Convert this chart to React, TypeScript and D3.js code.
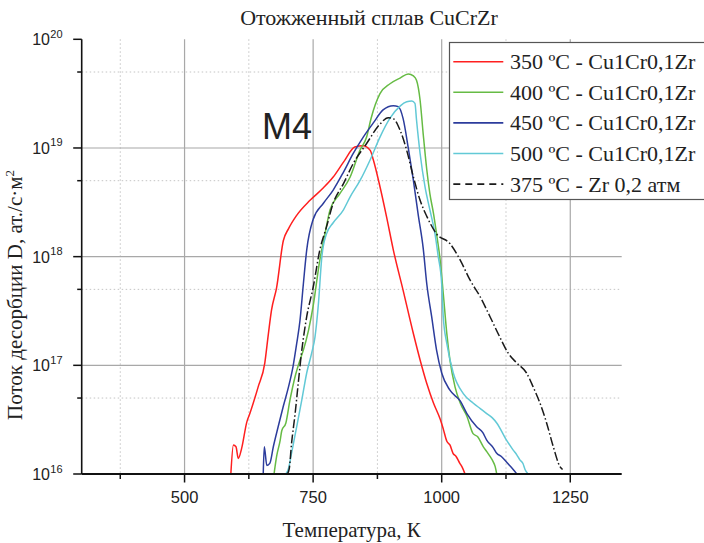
import React from "react";
import * as d3 from "d3";

// ---------- data ----------
const xTicksMajor = [500, 750, 1000, 1250];
const xTicksMinor = [375, 625, 875, 1125];
const yTicksMajor = [1e16, 1e17, 1e18, 1e19, 1e20];
const yTicksMinor = [5e16, 5e17, 5e18, 5e19];
const yTickExponents = ["16", "17", "18", "19", "20"];

const seriesNames = [
  "350 ºC - Cu1Cr0,1Zr",
  "400 ºC - Cu1Cr0,1Zr",
  "450 ºC - Cu1Cr0,1Zr",
  "500 ºC - Cu1Cr0,1Zr",
  "375 ºC - Zr 0,2 атм",
];

const tempRed = [590, 595, 600, 604.5, 611, 621, 627, 643, 656, 663, 669, 679, 692, 702, 718, 744, 770, 789, 809, 831, 847, 861, 867, 880, 893, 906, 925, 945, 958, 971, 984, 997, 1003, 1010, 1016, 1022, 1028, 1035, 1040, 1045];
const fluxRed = [1.0e16, 1.85e16, 1.78e16, 1.39e16, 1.72e16, 3.0e16, 3.6e16, 6.3e16, 1.05e17, 1.95e17, 3.2e17, 5.2e17, 1.4e18, 1.8e18, 2.4e18, 3.3e18, 4.3e18, 5.4e18, 7.4e18, 1.02e19, 1.05e19, 9.5e18, 7.8e18, 4.4e18, 2.3e18, 1.15e18, 4.9e17, 1.95e17, 1.12e17, 6.8e16, 4.5e16, 3.2e16, 2.6e16, 2.0e16, 1.85e16, 1.55e16, 1.45e16, 1.26e16, 1.15e16, 1.01e16];

const tempGreen = [674, 679, 686, 689, 697, 705, 715, 724.5, 731, 741, 750, 763, 773, 783, 802, 822, 841, 854, 862.5, 880, 899.5, 919, 935, 945, 951, 958, 964, 971, 977, 984, 990, 997, 1003, 1010, 1016, 1026, 1036, 1049, 1061, 1070, 1081, 1088, 1094, 1100, 1104, 1107];
const fluxGreen = [1.0e16, 1.45e16, 2.05e16, 2.5e16, 2.95e16, 4.8e16, 7.9e16, 1.12e17, 1.38e17, 2.1e17, 3.5e17, 9.3e17, 1.62e18, 2.7e18, 3.8e18, 5.4e18, 9.5e18, 1.26e19, 1.86e19, 3.16e19, 3.9e19, 4.4e19, 4.8e19, 4.6e19, 4.2e19, 2.75e19, 1.35e19, 6.3e18, 3.8e18, 2.5e18, 1.62e18, 9.3e17, 4.6e17, 1.95e17, 1.12e17, 6.3e16, 4.5e16, 3.4e16, 2.35e16, 2.2e16, 1.78e16, 1.6e16, 1.45e16, 1.3e16, 1.17e16, 1.0e16];

const tempBlue = [653, 655, 660, 666, 672.6, 682, 692, 702, 711, 718, 724.5, 731, 737.5, 750, 770, 789, 809, 828, 847.5, 867, 886, 906, 915.6, 925, 935, 945, 954.5, 964, 971, 980.5, 990, 1000, 1016, 1036, 1049, 1068, 1080, 1087.5, 1100, 1107, 1116, 1126, 1132, 1139, 1146];
const fluxBlue = [1.0e16, 1.78e16, 1.2e16, 1.26e16, 1.78e16, 2.72e16, 4.2e16, 6.3e16, 9.8e16, 1.58e17, 2.6e17, 5.6e17, 1.15e18, 2.2e18, 3.1e18, 4.1e18, 6.0e18, 8.9e18, 1.26e19, 1.7e19, 2.24e19, 2.45e19, 2.4e19, 1.86e19, 1.0e19, 5.0e18, 2.4e18, 1.2e18, 5.6e17, 2.8e17, 1.38e17, 8.5e16, 5.9e16, 4.7e16, 3.6e16, 2.72e16, 2.4e16, 2.05e16, 1.75e16, 1.55e16, 1.45e16, 1.29e16, 1.2e16, 1.1e16, 1.0e16];

const tempCyan = [697, 702, 708, 718, 728, 737.5, 747, 753.6, 760, 767, 776, 789, 809, 822, 841, 861, 880, 899.5, 919, 932, 942, 948, 951, 958, 967.5, 977, 987, 993, 1000, 1003, 1010, 1022.5, 1042, 1061, 1075, 1087.5, 1098, 1107, 1126, 1139, 1146, 1152, 1158, 1162, 1168];
const fluxCyan = [1.0e16, 1.12e16, 1.55e16, 2.72e16, 4.8e16, 8.5e16, 1.29e17, 1.82e17, 3.55e17, 1.0e18, 1.62e18, 2.05e18, 2.7e18, 3.55e18, 5.0e18, 7.8e18, 1.26e19, 1.88e19, 2.43e19, 2.66e19, 2.7e19, 2.57e19, 1.82e19, 8.9e18, 4.4e18, 2.7e18, 1.62e18, 1.02e18, 5.6e17, 2.8e17, 1.58e17, 8.5e16, 5.5e16, 4.5e16, 4.0e16, 3.6e16, 3.3e16, 2.95e16, 2.05e16, 1.66e16, 1.5e16, 1.35e16, 1.25e16, 1.1e16, 1.0e16];

const tempBlack = [700, 703.6, 708, 715, 721, 728, 737.5, 750, 763, 776, 789, 809, 828, 854, 880, 896, 906, 919, 932, 945, 958, 971, 990, 1016, 1036, 1055, 1074.5, 1094, 1113, 1129.5, 1146, 1165, 1178, 1191, 1204, 1217, 1230, 1235];
const fluxBlack = [1.0e16, 1.12e16, 1.9e16, 3.6e16, 6.8e16, 1.38e17, 2.8e17, 5.2e17, 1.15e18, 1.88e18, 3.1e18, 4.7e18, 7.2e18, 1.1e19, 1.66e19, 1.9e19, 1.86e19, 1.46e19, 9.5e18, 5.4e18, 3.3e18, 2.35e18, 1.62e18, 1.32e18, 9.3e17, 6.1e17, 4.3e17, 2.8e17, 1.82e17, 1.29e17, 1.05e17, 8.5e16, 6.3e16, 4.5e16, 2.95e16, 1.78e16, 1.17e16, 1.1e16];

const seriesTemps = [tempRed, tempGreen, tempBlue, tempCyan, tempBlack];
const seriesFlux = [fluxRed, fluxGreen, fluxBlue, fluxCyan, fluxBlack];
const seriesColors = ["#ff1f1f", "#66bb44", "#2c3c9c", "#62c9d6", "#1a1a1a"];
const seriesDash = [null, null, null, null, "9,2.5,1.5,2.5"];

// ---------- layout ----------
const W = 704;
const H = 543;
const L = 81.7;
const R = 621.7;
const T = 39.3;
const B = 474;

const serif = "'Liberation Serif', 'Times New Roman', serif";
const sans = "'Liberation Sans', Arial, sans-serif";

export default function App() {
  const x = d3.scaleLinear().domain([300, 1350]).range([L, R]);
  const y = d3.scaleLog().domain([1e16, 1e20]).range([B, T]);

  const line = d3
    .line<[number, number]>()
    .x((d) => x(d[0]))
    .y((d) => y(d[1]))
    .curve(d3.curveMonotoneX);

  const legendRows = [61.7, 92.3, 122.9, 153.5, 184.1];

  return (
    <svg
      width={W}
      height={H}
      style={{ position: "absolute", left: 0, top: 0, background: "#fff" }}
    >
      <defs>
        <clipPath id="plot">
          <rect x={L} y={T} width={R - L} height={B - T + 1} />
        </clipPath>
      </defs>
      <rect x={0} y={0} width={W} height={H} fill="#fff" />

      {/* grid */}
      {xTicksMinor.map((t) => (
        <line key={"gxm" + t} x1={x(t)} x2={x(t)} y1={T} y2={B} stroke="#c4c4c4" strokeWidth={1} strokeDasharray="1.5,2.5" />
      ))}
      {yTicksMinor.map((t) => (
        <line key={"gym" + t} x1={L} x2={R} y1={y(t)} y2={y(t)} stroke="#c4c4c4" strokeWidth={1} strokeDasharray="1.5,2.5" />
      ))}
      {xTicksMajor.map((t) => (
        <line key={"gx" + t} x1={x(t)} x2={x(t)} y1={T} y2={B} stroke="#a8a8a8" strokeWidth={1.2} />
      ))}
      {yTicksMajor.slice(1, 4).map((t) => (
        <line key={"gy" + t} x1={L} x2={R} y1={y(t)} y2={y(t)} stroke="#a8a8a8" strokeWidth={1.2} />
      ))}

      {/* series */}
      <g clipPath="url(#plot)">
        {seriesTemps.map((temps, i) => {
          const pts = temps.map((t, j) => [t, seriesFlux[i][j]] as [number, number]);
          return (
            <path
              key={"s" + i}
              d={line(pts) || ""}
              fill="none"
              stroke={seriesColors[i]}
              strokeWidth={1.5}
              strokeDasharray={seriesDash[i] || undefined}
              strokeLinejoin="round"
            />
          );
        })}
      </g>

      {/* axes */}
      <line x1={L} x2={L} y1={T} y2={B} stroke="#111" strokeWidth={1.6} />
      <line x1={L} x2={R} y1={B} y2={B} stroke="#111" strokeWidth={1.8} />
      {xTicksMajor.map((t) => (
        <g key={"xt" + t}>
          <line x1={x(t)} x2={x(t)} y1={B} y2={B + 8.5} stroke="#111" strokeWidth={1.5} />
          <text x={x(t)} y={503.3} textAnchor="middle" fontFamily={sans} fontSize={16.5} fill="#222">
            {t}
          </text>
        </g>
      ))}
      {xTicksMinor.map((t) => (
        <line key={"xm" + t} x1={x(t)} x2={x(t)} y1={B} y2={B + 5} stroke="#111" strokeWidth={1.5} />
      ))}
      {yTicksMajor.map((t, i) => (
        <g key={"yt" + t}>
          <line x1={L - 8.5} x2={L} y1={y(t)} y2={y(t)} stroke="#111" strokeWidth={1.5} />
          <text x={50} y={y(t) + 6} textAnchor="end" fontFamily={sans} fontSize={16} fill="#222">
            10
          </text>
          <text x={50.3} y={y(t) - 1.5} textAnchor="start" fontFamily={sans} fontSize={11} fill="#222">
            {yTickExponents[i]}
          </text>
        </g>
      ))}
      {yTicksMinor.map((t) => (
        <line key={"ym" + t} x1={L - 4.5} x2={L} y1={y(t)} y2={y(t)} stroke="#111" strokeWidth={1.5} />
      ))}

      {/* labels */}
      <text x={369} y={25} textAnchor="middle" fontFamily={serif} fontSize={22} fill="#222">
        Отожженный сплав CuCrZr
      </text>
      <text x={351.7} y={536.7} textAnchor="middle" fontFamily={serif} fontSize={21} fill="#222">
        Температура, К
      </text>
      <text
        transform={`translate(21.7,295) rotate(-90)`}
        textAnchor="middle"
        fontFamily={serif}
        fontSize={21}
        fill="#222"
      >
        Поток десорбции D, ат./с·м
        <tspan fontSize={13} dy={-8}>2</tspan>
      </text>
      <text x={262} y={139.3} fontFamily={sans} fontSize={36} fill="#222">
        M4
      </text>

      {/* legend */}
      <rect x={449.5} y={42.5} width={262} height={157} fill="#fff" stroke="#555" strokeWidth={1.2} />
      {seriesNames.map((name, i) => (
        <g key={"lg" + i}>
          <line
            x1={453.3}
            x2={503.3}
            y1={legendRows[i]}
            y2={legendRows[i]}
            stroke={seriesColors[i]}
            strokeWidth={1.6}
            strokeDasharray={i === 4 ? "7,5" : undefined}
          />
          <text x={510} y={legendRows[i] + 7.5} fontFamily={serif} fontSize={22} fill="#222">
            {name}
          </text>
        </g>
      ))}
    </svg>
  );
}
